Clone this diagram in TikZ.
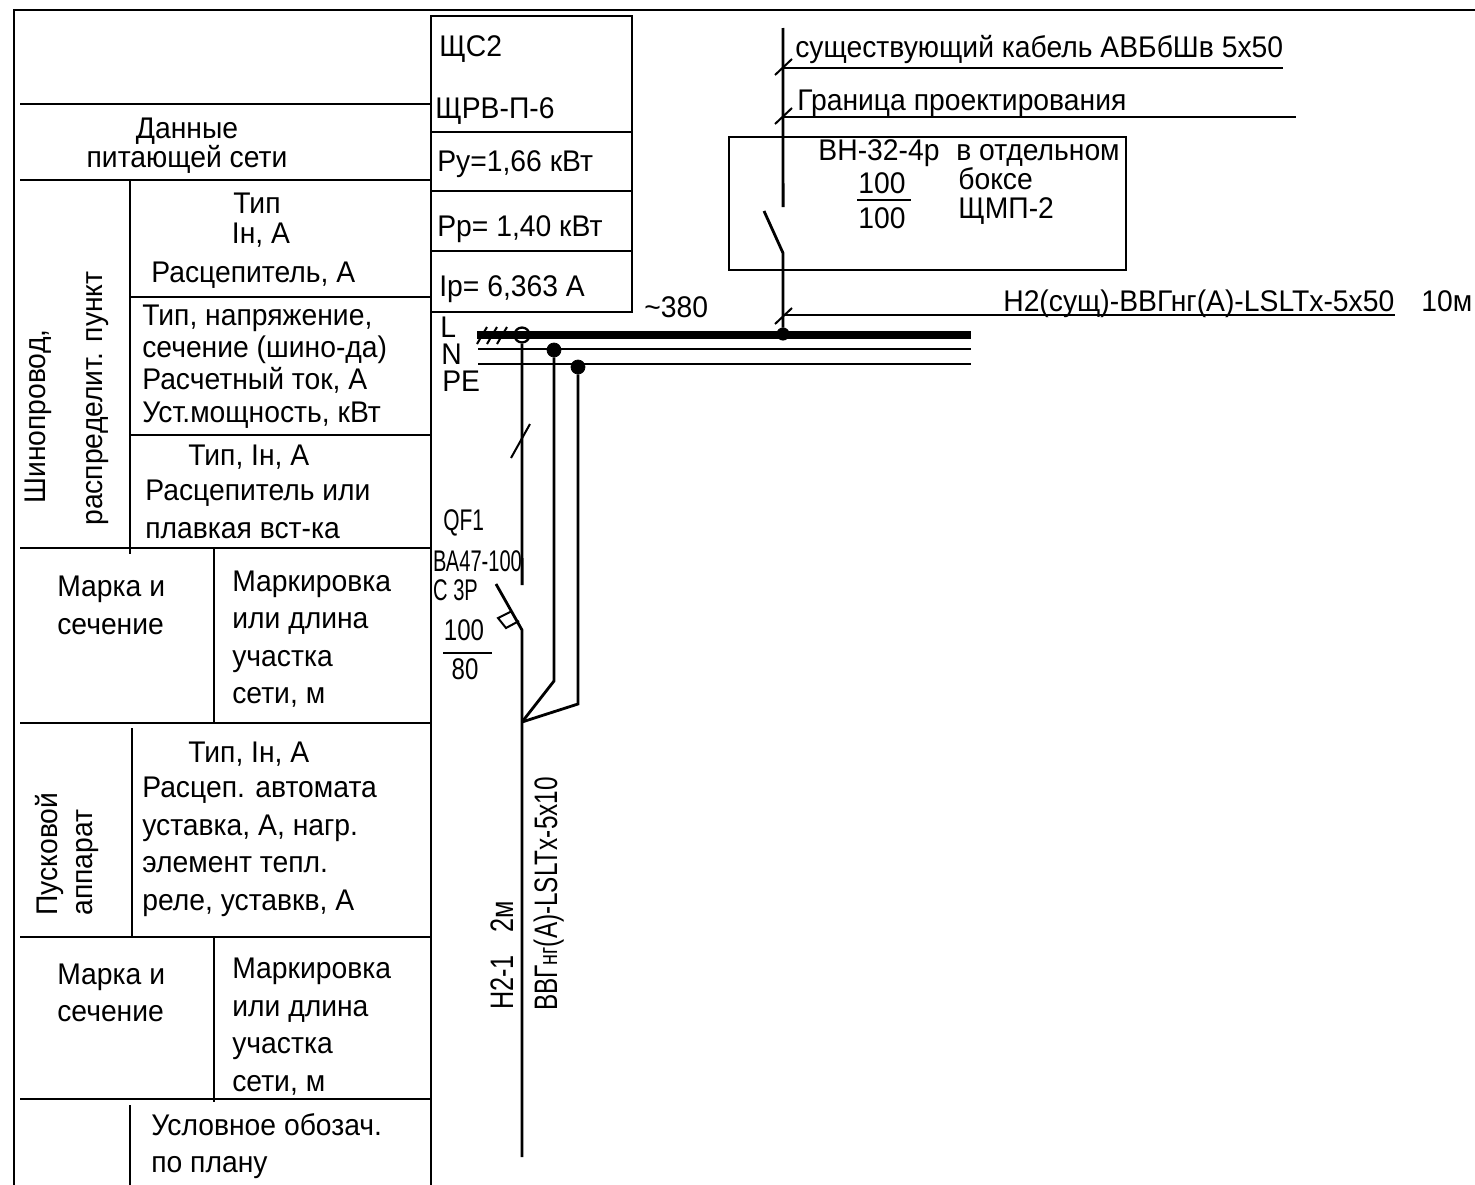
\documentclass[tikz,border=0pt]{standalone}
\usepackage{fontspec}
\setmainfont{Liberation Sans}
\tikzset{
    tx/.style={anchor=base west,inner sep=0pt,yshift=0.5pt,xscale=0.947,font=\fontsize{17}{18}\selectfont},
    tc/.style={anchor=base,inner sep=0pt,yshift=0.5pt,xscale=0.947,font=\fontsize{17}{18}\selectfont},
    tr/.style={anchor=base west,inner sep=0pt,rotate=90,xscale=0.947,font=\fontsize{17}{18}\selectfont},
    tbl/.style={line width=1.15pt},
    wire/.style={line width=1.6pt},
    thinw/.style={line width=0.85pt},
    dot/.style={circle,fill=black,draw=black,inner sep=0pt,minimum size=#1},
}
\begin{document}
\begin{tikzpicture}[x=0.2mm,y=-0.2mm]
            \useasboundingbox (0,0) rectangle (1475,1185);

            % table frame
            \draw[tbl] (14,1185) -- (14,10) -- (1475,10);
            \foreach \y in {104,180,548,723,937,1099} {
                \draw[tbl] (20,\y) -- (430,\y);
            }
            \foreach \y in {297,435} {
                \draw[tbl] (130,\y) -- (430,\y);
            }
            \draw[tbl] (130,180) -- (130,554);
            \draw[tbl] (214,548) -- (214,722);
            \draw[tbl] (132,728) -- (132,937);
            \draw[tbl] (214,938) -- (214,1102);
            \draw[tbl] (130,1105) -- (130,1185);
            \draw[tbl] (431,16) -- (431,1185);

            % panel data
            \draw[tbl] (431,16) rectangle (632,312);
            \foreach \y in {132,191,251} {
                \draw[tbl] (431,\y) -- (632,\y);
            }

            \node[tc] (dan1) at (187,139) {Данные};
            \node[tc] (dan2) at (187,168) {питающей сети};
            \node[tc] (type1) at (257,214) {Тип};
            \node[tc] (type2) at (261,244) {Iн, А};
            \node[tx] (rasc) at (151,283) {Расцепитель, А};
            \node[tx] (bus1) at (142,326) {Тип, напряжение,};
            \node[tx] (bus2) at (142,358) {сечение (шино-да)};
            \node[tx] (bus3) at (142,390) {Расчетный ток, А};
            \node[tx] (bus4) at (142,423) {Уст.мощность, кВт};
            \node[tx] (brk1) at (188,466) {Тип, Iн, А};
            \node[tx] (brk2) at (145,501) {Расцепитель или};
            \node[tx] (brk3) at (145,539) {плавкая вст-ка};
            \node[tx] (mark1) at (57,597) {Марка и};
            \node[tx] (mark2) at (57,635) {сечение};
            \node[tx] (len1) at (232,592) {Маркировка};
            \node[tx] (len2) at (232,629) {или длина};
            \node[tx] (len3) at (232,667) {участка};
            \node[tx] (len4) at (232,704) {сети, м};
            \node[tx] (st1) at (188,763) {Тип, Iн, А};
            \node[tx] (st2) at (142,798) {Расцеп. автомата};
            \node[tx] (st3) at (142,836) {уставка, А, нагр.};
            \node[tx] (st4) at (142,873) {элемент тепл.};
            \node[tx] (st5) at (142,911) {реле, уставкв, А};
            \node[tx] (markb1) at (57,985) {Марка и};
            \node[tx] (markb2) at (57,1022) {сечение};
            \node[tx] (lenb1) at (232,979) {Маркировка};
            \node[tx] (lenb2) at (232,1017) {или длина};
            \node[tx] (lenb3) at (232,1054) {участка};
            \node[tx] (lenb4) at (232,1092) {сети, м};
            \node[tx] (plan1) at (151,1136) {Условное обозач.};
            \node[tx] (plan2) at (151,1173) {по плану};
            \node[tr] (shin) at (45,504) {Шинопровод,};
            \node[tr] (rasp) at (102,526) {распределит. пункт};
            \node[tr] (pusk) at (57,916) {Пусковой};
            \node[tr] (appar) at (92,916) {аппарат};

            \node[tx] (shs) at (439,57) {ЩС2};
            \node[tx] (shrv) at (435,119) {ЩРВ-П-6};
            \node[tx] (pu) at (437,172) {Ру=1,66 кВт};
            \node[tx] (pr) at (437,237) {Рр= 1,40 кВт};
            \node[tx] (ip) at (439,297) {Iр= 6,363 А};
            \node[tx] (volt) at (644,318) {\char`\~380};
            \node[tx] (lL) at (440,338) {L};
            \node[tx] (lN) at (441,365) {N};
            \node[tx] (lPE) at (442,392) {PE};

            % feeder
            \coordinate (top) at (783,28);
            \coordinate (fixA) at (783.1,207);
            \coordinate (bladeA) at (764,211);
            \coordinate (pivA) at (783,253);
            \node[dot=7pt] (jF) at (783,334) {};
            \draw[wire] (top) -- (fixA);
            \draw[wire] (bladeA) -- (pivA) -- (jF);
            \coordinate (e1) at (1283,68);
            \coordinate (e2) at (1296,117);
            \coordinate (e3) at (1395,315);
            \draw[tbl] (783,68) -- (e1);
            \draw[tbl] (783,117) -- (e2);
            \draw[tbl] (783,315) -- (e3);
            \foreach \y in {67,116,316} {
                \draw[tbl] (775,\y+8) -- (792,\y-8);
            }
            \draw[tbl] (729,137) rectangle (1126,270);
            \draw[tbl] (857,200) -- (911,200);
            \node[tx] (cab) at (795,58) {существующий кабель АВБбШв 5х50};
            \node[tx] (gran) at (797,111) {Граница проектирования};
            \node[tc] (vn) at (879,161) {ВН-32-4р};
            \node[tc] (vn1) at (882,194) {100};
            \node[tc] (vn2) at (882,229) {100};
            \node[tx] (box1) at (956,161) {в отдельном};
            \node[tx] (box2) at (958,190) {боксе};
            \node[tx] (box3) at (958,219) {ЩМП-2};
            \node[tx] (n2) at (1003,312) {Н2(сущ)-ВВГнг(А)-LSLTх-5х50};
            \node[tx] (n2l) at (1421,312) {10м};

            % buses
            \coordinate (Ls) at (477,335);
            \coordinate (Le) at (971,335);
            \coordinate (Ns) at (478,349);
            \coordinate (Ne) at (971,349);
            \coordinate (Ps) at (478,364);
            \coordinate (Pe) at (971,364);
            \draw[line width=4pt] (Ls) -- (Le);
            \draw[thinw] (Ns) -- (Ne);
            \draw[thinw] (Ps) -- (Pe);
            \foreach \x in {477,487,497} {
                \draw[tbl] (\x,344) -- (\x+10,327);
            }

            % outgoing line
            \node[circle,draw=black,fill=none,line width=1.3pt,inner sep=0pt,minimum size=8.5pt] (jL) at (522,335) {};
            \node[dot=8pt] (jN) at (554,350) {};
            \node[dot=8pt] (jP) at (578,367) {};
            \coordinate (fixB) at (522.1,585);
            \coordinate (bladeB) at (496,584);
            \coordinate (pivB) at (522,630);
            \coordinate (endB) at (522,1157);
            \coordinate (star) at (522,722);
            \draw[wire] (jL) -- (fixB);
            \draw[wire] (bladeB) -- (pivB) -- (endB);
            \draw[wire] (jN) -- (554,681) -- (star);
            \draw[wire] (jP) -- (578,704) -- (star);
            \draw[tbl] (511,458) -- (530,424);
            \draw[tbl] (512,611) -- (498,618) -- (506,628) -- (519,621);
            \draw[tbl] (443,653) -- (492,653);

            \node[tx,xscale=0.74] (qf) at (443,531) {QF1};
            \node[tx,xscale=0.71] (ba) at (433,572) {ВА47-100};
            \node[tx,xscale=0.71] (c3p) at (433,601) {С 3Р};
            \node[tc,xscale=0.85] (i1) at (464,641) {100};
            \node[tc,xscale=0.85] (i2) at (465,680) {80};
            \node[tr,xscale=0.82,font=\fontsize{18.5}{20}\selectfont] (n21) at (513,1010) {Н2-1\hspace{0.9em}2м};
            \node[tr,xscale=0.79,font=\fontsize{18.5}{20}\selectfont] (vvg) at (557,1011) {ВВГ{\fontsize{15}{15}\selectfont нг}(А)-LSLTх-5х10};
\end{tikzpicture}
\end{document}
